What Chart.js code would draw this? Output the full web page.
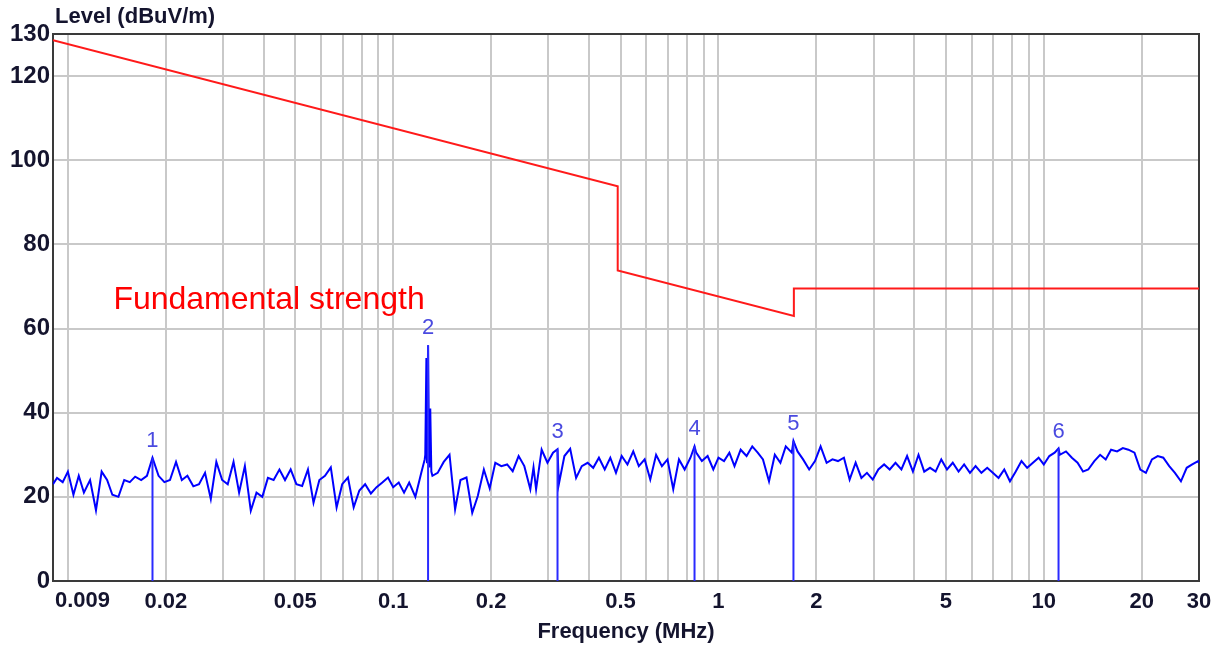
<!DOCTYPE html>
<html>
<head>
<meta charset="utf-8">
<script src="https://cdn.jsdelivr.net/npm/chart.js@4.4.1/dist/chart.umd.min.js"></script>
<style>
  body { margin: 0; background: #fff; }
  canvas { display: block; }
</style>
</head>
<body>
<canvas id="chart" width="1229" height="645"></canvas>
<script>
// measured trace (MHz, dBuV/m)
var traceFreq = [
  0.009, 0.00926, 0.00964,
  0.0100, 0.0104, 0.0108, 0.0112, 0.0117, 0.0122, 0.0127, 0.0132, 0.0137, 0.0143, 0.0149, 0.0155, 0.0161, 0.0168, 0.0175, 0.0182,
  0.0190, 0.0198, 0.0206, 0.0215, 0.0224, 0.0233, 0.0243, 0.0253, 0.0264, 0.0275, 0.0286, 0.0298, 0.0310, 0.0323, 0.0336, 0.0350,
  0.0365, 0.0380, 0.0396, 0.0412, 0.0429, 0.0447, 0.0465, 0.0484, 0.0504, 0.0525, 0.0547, 0.0569, 0.0593, 0.0617, 0.0643, 0.0670,
  0.0697, 0.0726, 0.0756, 0.0787, 0.0820, 0.0854, 0.0889, 0.0926, 0.0964,
  0.100, 0.104, 0.108, 0.112, 0.117, 0.122, 0.125, 0.1255, 0.1265, 0.127, 0.128, 0.129, 0.130, 0.131, 0.132, 0.137, 0.143, 0.149,
  0.155, 0.161, 0.168, 0.175, 0.182, 0.190, 0.198, 0.206, 0.215, 0.224, 0.233, 0.243, 0.253, 0.264, 0.270, 0.275, 0.286, 0.298,
  0.310, 0.320, 0.323, 0.336, 0.350, 0.365, 0.380, 0.396, 0.412, 0.429, 0.447, 0.465, 0.484, 0.504, 0.525, 0.547, 0.569, 0.593,
  0.617, 0.643, 0.670, 0.697, 0.726, 0.756, 0.787, 0.820, 0.844, 0.854, 0.889, 0.926, 0.964,
  1.00, 1.04, 1.08, 1.12, 1.17, 1.22, 1.27, 1.32, 1.37, 1.43, 1.49, 1.55, 1.61, 1.68, 1.70, 1.75, 1.82, 1.90, 1.98, 2.06, 2.15,
  2.24, 2.33, 2.43, 2.53, 2.64, 2.75, 2.86, 2.98, 3.10, 3.23, 3.36, 3.50, 3.65, 3.80, 3.96, 4.12, 4.29, 4.47, 4.65, 4.84, 5.04,
  5.25, 5.47, 5.69, 5.93, 6.17, 6.43, 6.70, 6.97, 7.26, 7.56, 7.87, 8.20, 8.54, 8.89, 9.26, 9.64,
  10.0, 10.4, 10.8, 11.1, 11.2, 11.7, 12.2, 12.7, 13.2, 13.7, 14.3, 14.9, 15.5, 16.1, 16.8, 17.5, 18.2, 19.0, 19.8, 20.6, 21.5,
  22.4, 23.3, 24.3, 25.3, 26.4, 27.5, 28.6, 29.8, 30
];
var traceLevel = [
  23, 24.5, 23.5,
  26, 20.5, 25, 21, 24, 16.8, 26, 24, 20.5, 20, 24, 23.5, 24.8, 24, 25, 29.3,
  25, 23.5, 24, 28.3, 24, 25, 22.5, 23, 25.7, 19.5, 28.3, 24, 23, 28.3, 21, 27.3,
  16.7, 21, 20, 24.5, 24, 26.5, 24, 26.5, 23, 22.6, 26.5, 18.6, 24, 25, 27, 17.5,
  23, 24.6, 17.5, 21.5, 23, 20.8, 22.3, 23.4, 24.6,
  22.3, 23.4, 21, 23.4, 20, 25.7, 28.9, 30, 53, 28, 56, 27, 41, 26, 25, 25.7, 28.3, 30,
  17, 24, 24.6, 16.2, 20.2, 26.5, 22, 28.1, 27.3, 27.7, 26.1, 29.7, 27.3, 21.8, 27, 21.8, 31.2, 28.1,
  30.5, 31.3, 23, 29.7, 31.4, 24.5, 27.3, 28.1, 26.9, 29.3, 26.5, 29.3, 25.7, 29.7, 27.7, 30.8, 27.3, 28.9,
  24.1, 30, 27.3, 28.9, 21.8, 28.9, 26.5, 29.3, 32, 30.5, 28.5, 29.7, 26.5,
  29.3, 28.5, 30.5, 27.3, 31.2, 29.7, 32, 30.5, 28.9, 23.7, 30, 28.1, 32, 30.5, 33.3, 30.8, 28.9, 26.5, 28.5, 32, 28.1,
  28.9, 28.5, 29.3, 24.1, 28.1, 24.5, 25.7, 24.1, 26.5, 27.7, 26.5, 28.1, 26.5, 29.7, 26, 30, 26, 26.9, 26, 28.9, 26.5,
  28.1, 26, 27.7, 25.7, 27.3, 25.7, 26.9, 25.7, 24.5, 26.5, 23.7, 26, 28.5, 26.9, 28.1, 29.3,
  27.7, 29.7, 30.5, 31.5, 30, 30.8, 29.3, 28.1, 26, 26.5, 28.5, 30, 28.9, 31.2, 30.8, 31.6, 31.2, 30.5, 26.5, 25.7, 28.9,
  29.7, 29.3, 27.3, 25.7, 23.7, 26.9, 27.7, 28.5, 28
];

// limit line
var limitFreq = [0.009, 0.49, 0.49, 1.705, 1.705, 30];
var limitLevel = [128.5, 93.8, 73.8, 63.0, 69.5, 69.5];

// markers
var markerNames = ['1', '2', '3', '4', '5', '6'];
var markerFreq = [0.0182, 0.128, 0.320, 0.844, 1.70, 11.1];
var markerLevel = [29.3, 56, 31.3, 32, 33.3, 31.5];

// axes
var xGrid = [0.01, 0.02, 0.03, 0.04, 0.05, 0.06, 0.07, 0.08, 0.09,
  0.1, 0.2, 0.3, 0.4, 0.5, 0.6, 0.7, 0.8, 0.9,
  1, 2, 3, 4, 5, 6, 7, 8, 9, 10, 20, 30];
var xLabels = [0.02, 0.05, 0.1, 0.2, 0.5, 1, 2, 5, 10, 20, 30];
var yTicks = [0, 20, 40, 60, 80, 100, 120, 130];

var fontFam = 'Arial, "Liberation Sans", sans-serif';
var textColor = '#14142e';

function pts(xs, ys) {
  var out = [];
  for (var i = 0; i < xs.length; i++) out.push({ x: xs[i], y: ys[i] });
  return out;
}

var datasets = [];
for (var m = 0; m < markerFreq.length; m++) {
  datasets.push({
    data: [{ x: markerFreq[m], y: 0 }, { x: markerFreq[m], y: markerLevel[m] }],
    borderColor: '#2a2aff', borderWidth: 2, pointRadius: 0
  });
}
datasets.push({
  data: pts(traceFreq, traceLevel),
  borderColor: '#0000ff', borderWidth: 2, pointRadius: 0
});
datasets.push({
  data: pts(limitFreq, limitLevel),
  borderColor: '#ff1a1a', borderWidth: 2, pointRadius: 0
});

var extras = {
  id: 'extras',
  beforeDatasetsDraw: function (chart) {
    var a = chart.chartArea, ctx = chart.ctx;
    ctx.save();
    ctx.strokeStyle = '#3a3a3a';
    ctx.lineWidth = 2;
    ctx.strokeRect(a.left, a.top, a.right - a.left, a.bottom - a.top);
    ctx.restore();
  },
  afterDraw: function (chart) {
    var a = chart.chartArea, ctx = chart.ctx;
    var xs = chart.scales.x, ys = chart.scales.y;
    ctx.save();
    ctx.fillStyle = textColor;
    ctx.font = 'bold 22px ' + fontFam;
    ctx.textBaseline = 'middle';
    ctx.textAlign = 'left';
    ctx.fillText('Level (dBuV/m)', a.left + 2, 17);
    ctx.fillText('0.009', a.left + 2, 601);
    ctx.textAlign = 'center';
    ctx.fillText('Frequency (MHz)', (a.left + a.right) / 2, 632);

    // marker numbers
    ctx.fillStyle = '#4a4ae0';
    ctx.font = '22px ' + fontFam;
    for (var i = 0; i < markerFreq.length; i++) {
      ctx.fillText(markerNames[i], xs.getPixelForValue(markerFreq[i]), ys.getPixelForValue(markerLevel[i]) - 17);
    }

    ctx.fillStyle = '#ff0000';
    ctx.font = '32px ' + fontFam;
    ctx.textAlign = 'left';
    ctx.fillText('Fundamental strength', xs.getPixelForValue(0.0138), ys.getPixelForValue(66.7));
    ctx.restore();
  }
};

new Chart(document.getElementById('chart'), {
  type: 'line',
  data: { datasets: datasets },
  options: {
    responsive: false,
    animation: false,
    layout: { padding: { left: 0, right: 30, top: 34, bottom: 0 } },
    plugins: { legend: { display: false }, tooltip: { enabled: false } },
    scales: {
      x: {
        type: 'logarithmic',
        min: 0.009, max: 30,
        afterBuildTicks: function (s) { s.ticks = xGrid.map(function (v) { return { value: v }; }); },
        afterFit: function (s) { s.height = 64; },
        grid: { color: '#c9c9c9', lineWidth: 2, drawTicks: false },
        border: { display: false },
        ticks: {
          autoSkip: false, maxRotation: 0, padding: 8,
          color: textColor, font: { family: fontFam, size: 22, weight: 'bold' },
          callback: function (v) {
            for (var i = 0; i < xLabels.length; i++) {
              if (Math.abs(xLabels[i] - v) < 1e-9) return String(xLabels[i]);
            }
            return '';
          }
        }
      },
      y: {
        min: 0, max: 130,
        afterBuildTicks: function (s) { s.ticks = yTicks.map(function (v) { return { value: v }; }); },
        afterFit: function (s) { s.width = 53; },
        grid: { color: '#c9c9c9', lineWidth: 2, drawTicks: false },
        border: { display: false },
        ticks: { padding: 3, color: textColor, font: { family: fontFam, size: 24, weight: 'bold' } }
      }
    }
  },
  plugins: [extras]
});
</script>
</body>
</html>
